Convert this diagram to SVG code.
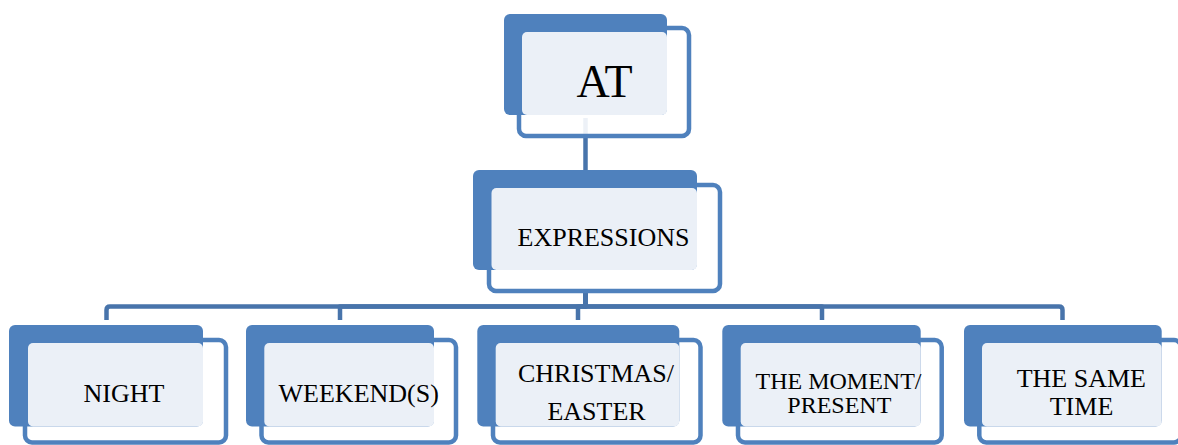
<svg xmlns="http://www.w3.org/2000/svg" width="1178" height="445" viewBox="0 0 1178 445">
<style>
.back{fill:#4F81BD}
.front{fill:#FFFFFF;fill-opacity:0.9;stroke:#4F81BD;stroke-width:4.5}
.light{fill:#EBF0F7}
.conn{fill:none;stroke:#4874AB;stroke-width:4.5;stroke-linejoin:round}
text{font-family:"Liberation Serif","Times New Roman",serif;fill:#000;text-anchor:middle}
.t26{font-size:26px}
.t24{font-size:24px}
</style>
<rect width="1178" height="445" fill="#FFFFFF"/>
<g id="connectors">
<path class="conn" d="M585.5,118 V172"/>
<path class="conn" d="M585.5,290 V306.5 H110 Q106.5,306.5 106.5,310 V320"/>
<path class="conn" d="M585.5,290 V306.5 H340 V320"/>
<path class="conn" d="M585.5,290 V306.5 H578 V320"/>
<path class="conn" d="M585.5,290 V306.5 H822 V320"/>
<path class="conn" d="M585.5,290 V306.5 H1059 Q1062.5,306.5 1062.5,310 V320"/>
</g>
<g id="node-at">
<rect class="front" x="519" y="28" width="170" height="108" rx="7"/>
<rect class="back" x="504" y="14" width="163" height="101" rx="6"/>
<rect class="light" x="522" y="32" width="145" height="83" rx="5"/>
<text x="604.5" y="97" style="font-size:46px">AT</text>
</g>
<g id="node-expressions">
<rect class="front" x="489" y="185" width="231" height="106" rx="7"/>
<rect class="back" x="473" y="170" width="224" height="100" rx="6"/>
<rect class="light" x="491.5" y="188" width="205.5" height="82" rx="5"/>
<text class="t26" x="603.5" y="246">EXPRESSIONS</text>
</g>
<g id="node-night">
<rect class="front" x="25" y="340" width="201" height="102.5" rx="7"/>
<rect class="back" x="9" y="325" width="194" height="101.5" rx="6"/>
<rect class="light" x="28" y="343" width="175" height="83.5" rx="5"/>
<text class="t26" x="124" y="401.7">NIGHT</text>
</g>
<g id="node-weekends">
<rect class="front" x="261.5" y="340" width="194.5" height="102.5" rx="7"/>
<rect class="back" x="246" y="325" width="188" height="101.5" rx="6"/>
<rect class="light" x="264.3" y="343" width="169.7" height="83.5" rx="5"/>
<text class="t26" x="358.7" y="401.7">WEEKEND(S)</text>
</g>
<g id="node-christmas">
<rect class="front" x="493" y="340" width="207.5" height="102.5" rx="7"/>
<rect class="back" x="477.3" y="325" width="202" height="101.5" rx="6"/>
<rect class="light" x="495.7" y="343" width="183.6" height="83.5" rx="5"/>
<text class="t26" x="596" y="382">CHRISTMAS/</text>
<text class="t26" x="596.5" y="420">EASTER</text>
</g>
<g id="node-moment">
<rect class="front" x="738" y="340" width="203.7" height="102.5" rx="7"/>
<rect class="back" x="722.3" y="325" width="198.4" height="101.5" rx="6"/>
<rect class="light" x="740.7" y="343" width="180" height="83.5" rx="5"/>
<text class="t24" x="838.5" y="389.3">THE MOMENT/</text>
<text class="t24" x="839.3" y="413.3">PRESENT</text>
</g>
<g id="node-sametime">
<rect class="front" x="979.3" y="340" width="201.7" height="102.5" rx="7"/>
<rect class="back" x="964" y="325" width="197.7" height="101.5" rx="6"/>
<rect class="light" x="982" y="343" width="179.7" height="83.5" rx="5"/>
<text class="t26" x="1081.3" y="387.3">THE SAME</text>
<text class="t26" x="1081.5" y="415">TIME</text>
</g>
</svg>
